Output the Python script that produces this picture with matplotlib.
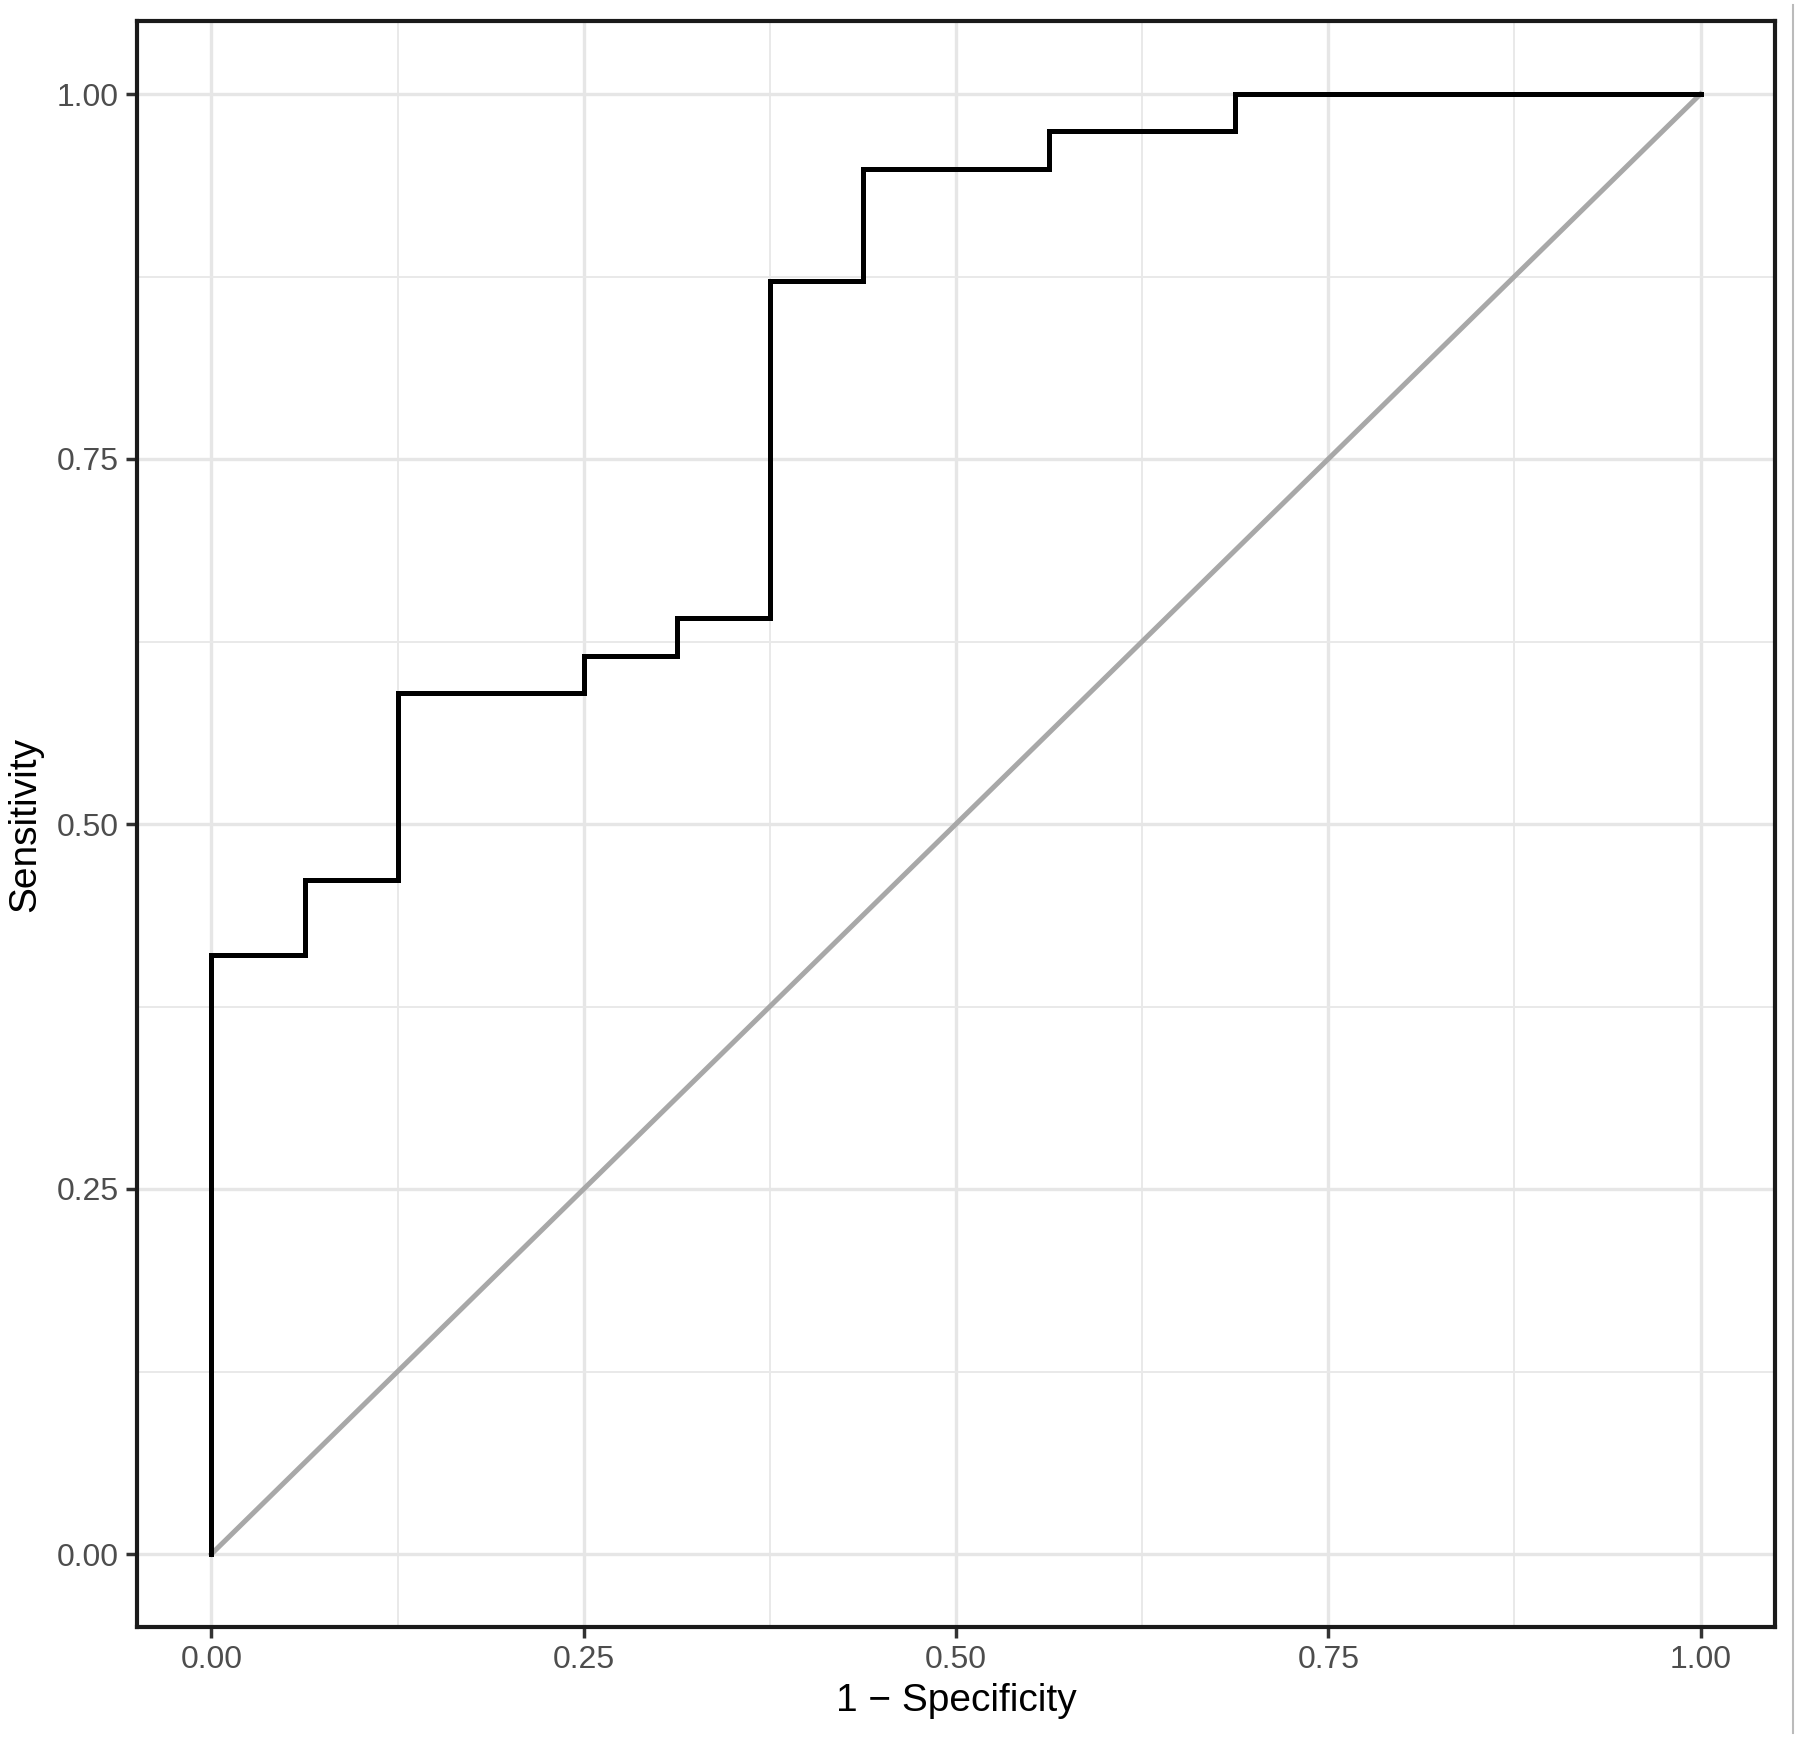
import matplotlib
matplotlib.use("Agg")
import matplotlib.pyplot as plt
from matplotlib.lines import Line2D

plt.rcParams['font.family'] = ['Liberation Sans', 'DejaVu Sans']

# ROC step points (1 - specificity, sensitivity); 16 negatives, 39 positives
fpr = [0, 0, 1/16, 1/16, 2/16, 2/16, 4/16, 4/16, 5/16, 5/16, 6/16, 6/16,
       7/16, 7/16, 9/16, 9/16, 11/16, 11/16, 1.0]
tpr = [0, 16/39, 16/39, 18/39, 18/39, 23/39, 23/39, 24/39, 24/39, 25/39, 25/39, 34/39,
       34/39, 37/39, 37/39, 38/39, 38/39, 1.0, 1.0]
diag = [0, 1]
ticks = [0.0, 0.25, 0.5, 0.75, 1.0]
tick_labels = ["0.00", "0.25", "0.50", "0.75", "1.00"]
minor_ticks = [0.125, 0.375, 0.625, 0.875]

fig = plt.figure(figsize=(18, 17.39), dpi=100)
ax = fig.add_axes([137/1800, 1 - 1627/1739, (1775-137)/1800, (1627-21)/1739])

ax.set_xlim(-0.05, 1.05)
ax.set_ylim(-0.05, 1.05)
ax.set_xticks(ticks)
ax.set_xticklabels(tick_labels)
ax.set_yticks(ticks)
ax.set_yticklabels(tick_labels)
ax.set_xticks(minor_ticks, minor=True)
ax.set_yticks(minor_ticks, minor=True)

ax.grid(which='major', color='#E6E6E6', linewidth=2.4, zorder=0)
ax.grid(which='minor', color='#E9E9E9', linewidth=1.4, zorder=0)
ax.set_axisbelow(True)

ax.plot(diag, diag, color='#A8A8A8', linewidth=3.6, zorder=2)
ax.plot(fpr, tpr, color='black', linewidth=3.6, zorder=3, solid_joinstyle='miter')

for s in ax.spines.values():
    s.set_linewidth(3.0)
    s.set_color('#1A1A1A')

ax.tick_params(which='major', length=8, width=2.5, color='#333333',
               labelsize=23, labelcolor='#4D4D4D', pad=5)
ax.tick_params(which='minor', length=0)

ax.set_xlabel("1 \u2212 Specificity", fontsize=28, color='black', labelpad=6)
ax.set_ylabel("Sensitivity", fontsize=28, color='black', labelpad=10)

fig.add_artist(Line2D([1793/1800, 1793/1800], [1 - 1733/1739, 1 - 5/1739],
                      transform=fig.transFigure, color='#BBBBBB', linewidth=1.5))

fig.savefig("out.png", dpi=100)
